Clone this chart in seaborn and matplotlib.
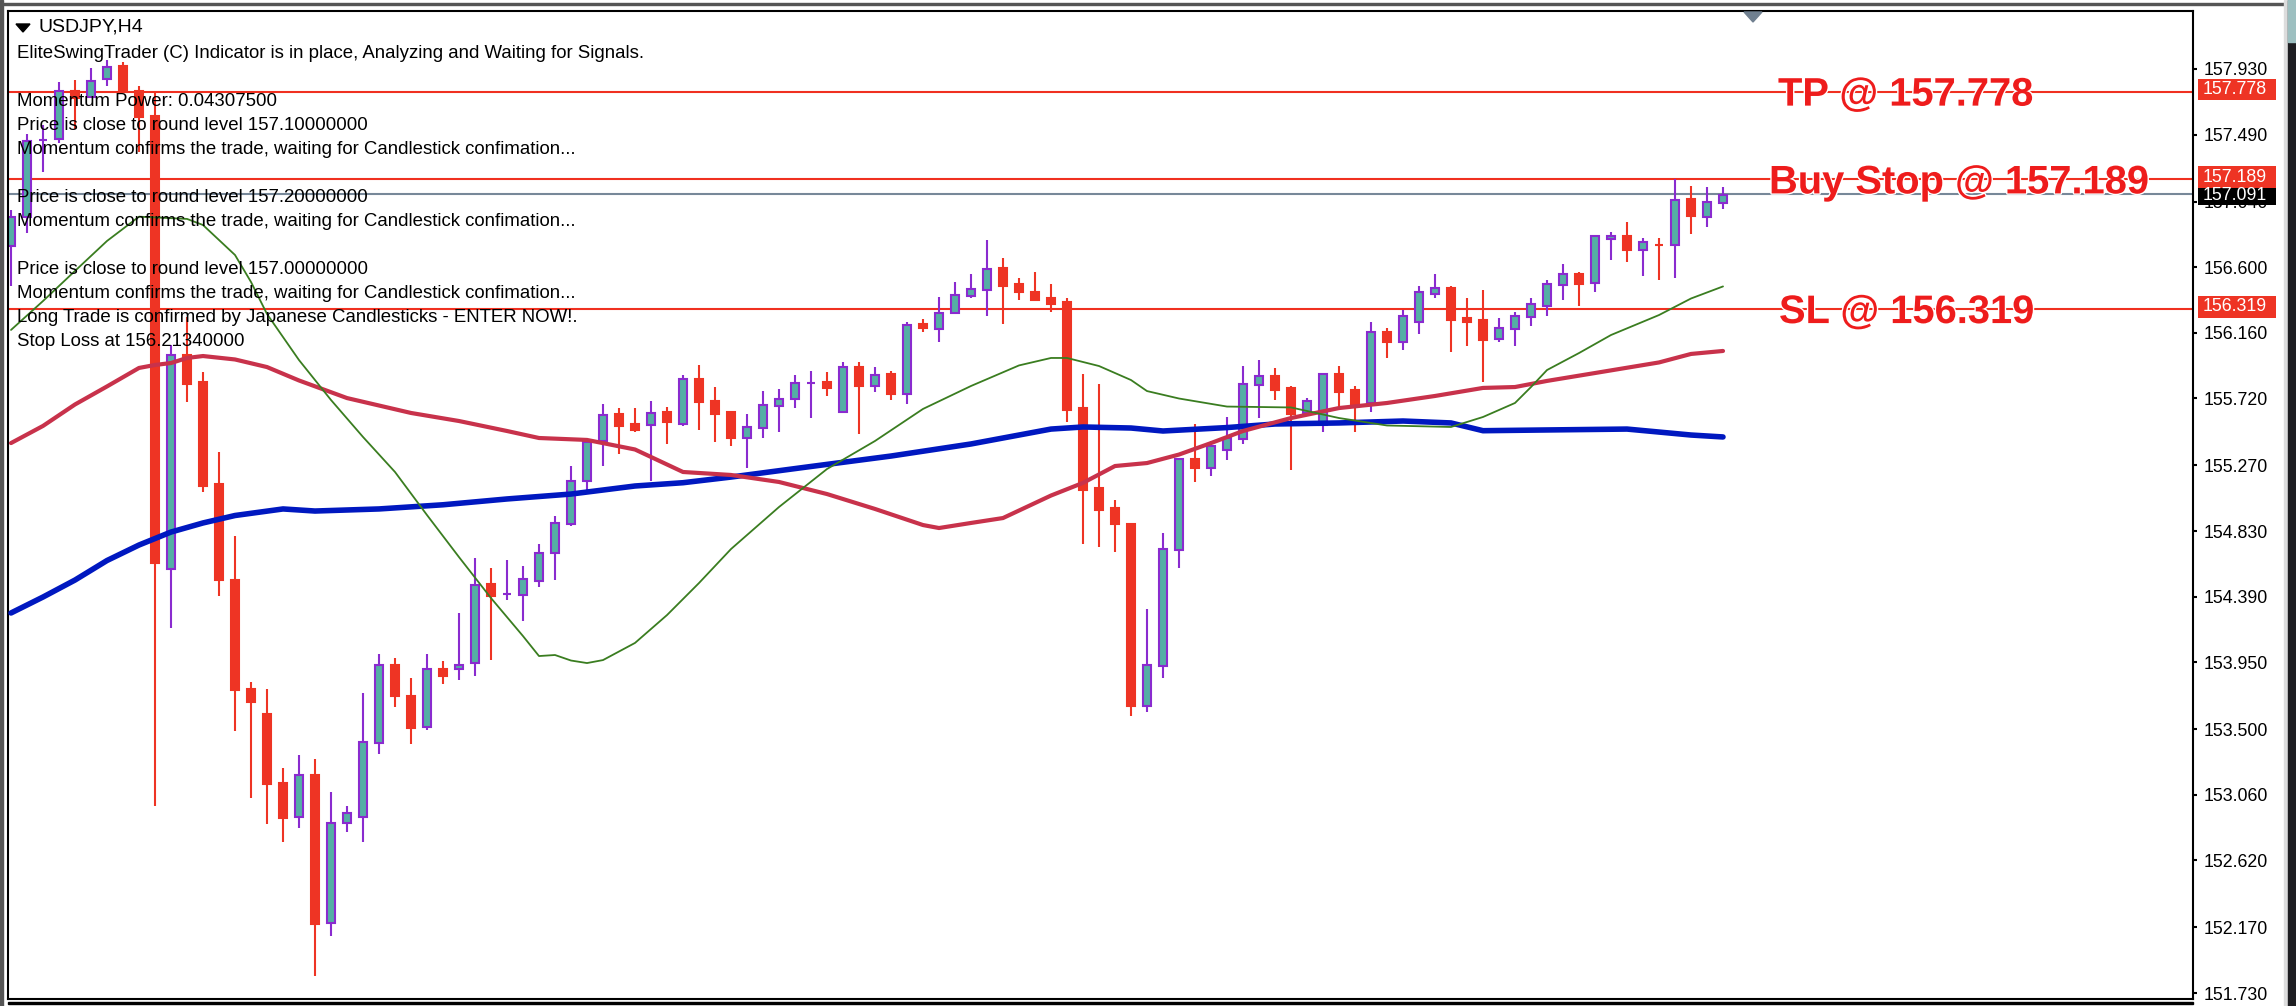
import numpy as np
import pandas as pd
import matplotlib
matplotlib.use('Agg')
import matplotlib.pyplot as plt
import matplotlib.patheffects as pe
from matplotlib.patches import Rectangle, Polygon
import seaborn as sns

# candles
open_prices = [156.742,156.937,157.454,157.460,157.782,157.742,157.863,157.950,157.782,157.615,
    154.575,156.011,155.830,155.145,154.501,153.773,153.602,153.142,152.908,153.196,
    152.200,152.871,152.908,153.408,153.934,153.723,153.512,153.907,153.901,153.944,
    154.474,154.405,154.401,154.495,154.680,154.878,155.167,155.431,155.615,155.548,
    155.538,155.626,155.549,155.853,155.704,155.626,155.457,155.524,155.672,155.714,
    155.823,155.827,155.630,155.933,155.806,155.883,155.751,156.219,156.185,156.290,
    156.410,156.449,156.595,156.487,156.434,156.393,156.367,155.653,155.119,154.982,
    154.874,153.656,153.925,154.705,155.316,155.255,155.375,155.445,155.810,155.870,
    155.790,155.622,155.541,155.883,155.776,155.689,156.165,156.100,156.234,156.422,
    156.461,156.259,156.246,156.118,156.185,156.266,156.342,156.481,156.554,156.494,
    156.787,156.809,156.717,156.752,156.749,157.058,156.937,157.031]
close_prices = [156.937,157.447,157.454,157.782,157.735,157.850,157.943,157.776,157.608,154.612,
    156.011,155.816,155.135,154.501,153.763,153.683,153.132,152.904,153.193,152.194,
    152.873,152.938,153.414,153.931,153.724,153.508,153.904,153.860,153.931,154.468,
    154.397,154.405,154.508,154.682,154.884,155.167,155.427,155.611,155.537,155.510,
    155.622,155.561,155.850,155.696,155.616,155.454,155.528,155.677,155.716,155.824,
    155.823,155.790,155.930,155.803,155.878,155.751,156.214,156.192,156.294,156.415,
    156.454,156.591,156.475,156.436,156.382,156.354,155.642,155.105,154.971,154.877,
    153.656,153.931,154.709,155.313,155.253,155.400,155.454,155.813,155.870,155.776,
    155.617,155.704,155.881,155.765,155.682,156.165,156.100,156.273,156.434,156.461,
    156.248,156.234,156.114,156.192,156.273,156.353,156.487,156.554,156.489,156.809,
    156.807,156.717,156.769,156.751,157.051,156.946,157.038,157.085]
high_prices = [156.984,157.494,157.554,157.843,157.856,157.937,157.990,157.977,157.816,157.776,
    156.078,156.266,155.897,155.360,154.796,153.817,153.773,153.240,153.330,153.303,
    153.079,152.982,153.746,154.005,153.975,153.844,154.005,153.961,154.282,154.649,
    154.579,154.635,154.595,154.740,154.928,155.263,155.447,155.679,155.652,155.652,
    155.704,155.665,155.880,155.947,155.799,155.637,155.612,155.771,155.785,155.880,
    155.906,155.894,155.961,155.961,155.933,155.906,156.232,156.255,156.403,156.501,
    156.554,156.783,156.662,156.528,156.568,156.487,156.393,155.883,155.816,155.038,
    154.874,154.307,154.818,155.313,155.545,155.436,155.598,155.937,155.977,155.924,
    155.803,155.722,155.881,155.937,155.803,156.232,156.192,156.313,156.474,156.554,
    156.474,156.393,156.447,156.259,156.299,156.393,156.514,156.622,156.568,156.809,
    156.836,156.903,156.796,156.796,157.195,157.145,157.140,157.140]
low_prices = [156.474,156.830,157.239,157.433,157.527,157.735,157.816,157.769,157.373,152.985,
    154.179,155.696,155.092,154.397,153.488,153.041,152.867,152.743,152.840,151.846,
    152.116,152.813,152.743,153.335,153.646,153.403,153.495,153.806,153.830,153.860,
    153.964,154.370,154.223,154.452,154.501,154.865,155.107,155.268,155.349,155.496,
    155.165,155.414,155.535,155.508,155.425,155.401,155.253,155.454,155.494,155.655,
    155.588,155.737,155.628,155.482,155.763,155.709,155.684,156.167,156.100,156.290,
    156.391,156.273,156.219,156.380,156.380,156.299,155.559,154.743,154.725,154.689,
    153.589,153.613,153.844,154.582,155.159,155.200,155.306,155.417,155.591,155.709,
    155.241,155.622,155.496,155.664,155.496,155.630,155.993,156.047,156.154,156.395,
    156.033,156.073,155.832,156.100,156.073,156.206,156.275,156.382,156.342,156.436,
    156.650,156.637,156.543,156.516,156.530,156.825,156.870,156.991]

# moving averages, read at the bars where they bend
blue_bars = [0,2,4,6,8,10,12,14,17,19,23,27,31,35,39,42,45,50,55,60,65,67,70,72,76,79,83,87,90,92,96,101,103,105,107]
blue_ma = [154.280,154.387,154.501,154.632,154.736,154.823,154.884,154.934,154.978,154.964,154.978,155.006,
    155.045,155.078,155.132,155.154,155.192,155.263,155.333,155.414,155.514,155.528,155.521,155.501,155.524,
    155.548,155.555,155.568,155.555,155.503,155.508,155.514,155.494,155.474,155.461]
red_bars = [0,2,4,6,8,9,10,11,12,14,16,18,21,23,25,28,31,33,36,39,42,45,48,51,54,57,58,60,62,65,67,69,71,73,75,77,80,83,86,89,92,94,96,99,103,105,107]
red_ma = [155.420,155.535,155.679,155.800,155.924,155.944,155.957,155.991,156.004,155.981,155.930,155.840,
    155.722,155.672,155.622,155.568,155.501,155.454,155.441,155.377,155.226,155.206,155.159,155.078,154.978,
    154.870,154.850,154.884,154.917,155.068,155.153,155.266,155.286,155.343,155.420,155.501,155.588,155.655,
    155.689,155.736,155.790,155.796,155.837,155.890,155.961,156.018,156.038]
green_bars = [0,2,4,6,8,11,12,14,15,16,18,20,22,24,26,28,30,32,33,34,35,36,37,39,41,43,45,48,51,54,57,60,63,65,66,68,70,71,73,76,80,83,86,90,92,94,95,96,98,100,103,105,107]
green_ma = [156.179,156.373,156.575,156.776,156.939,156.924,156.883,156.682,156.501,156.286,155.977,155.709,
    155.461,155.226,154.937,154.655,154.380,154.125,153.991,153.998,153.961,153.944,153.964,154.079,154.266,
    154.481,154.709,154.991,155.246,155.434,155.649,155.803,155.941,155.991,155.991,155.937,155.843,155.769,
    155.719,155.665,155.659,155.588,155.538,155.528,155.595,155.689,155.796,155.910,156.024,156.145,156.279,
    156.390,156.471]

tick_values = [157.930,157.490,157.040,156.600,156.160,155.720,155.270,154.830,154.390,153.950,153.500,153.060,152.620,152.170,151.730]
trade_levels = [157.778,157.189,156.319]
trade_names = ['TP','Buy Stop','SL']
trade_label_x = [1778,1769,1779]
current_price = 157.091

info_lines = [
    'EliteSwingTrader (C) Indicator is in place, Analyzing and Waiting for Signals.',
    'Momentum Power: 0.04307500',
    'Price is close to round level 157.10000000',
    'Momentum confirms the trade, waiting for Candlestick confimation...',
    'Price is close to round level 157.20000000',
    'Momentum confirms the trade, waiting for Candlestick confimation...',
    'Price is close to round level 157.00000000',
    'Momentum confirms the trade, waiting for Candlestick confimation...',
    'Long Trade is confirmed by Japanese Candlesticks - ENTER NOW!.',
    'Stop Loss at 156.21340000',
]
info_y = [53,101,125,149,197,222,269,293,317,342]

RED = '#EE3424'
TEAL = '#55AFA5'
PURPLE = '#8A2BCF'
W, H = 2296, 1006

candles = pd.DataFrame({'open': open_prices, 'high': high_prices, 'low': low_prices, 'close': close_prices})
candles['bar'] = candles.index
bull = candles[candles['close'] >= candles['open']]
bear = candles[candles['close'] < candles['open']]

sns.set_theme(style='white')
plt.rcParams['font.family'] = ['Liberation Sans', 'DejaVu Sans']

fig = plt.figure(figsize=(W / 100, H / 100), dpi=100)
ax = fig.add_axes([8 / W, (H - 999) / H, (2193 - 8) / W, (999 - 11) / H])
ax.set_xlim(-0.1875, 136.375)
ax.set_ylim(151.690, 158.319)

# level lines sit behind the candles
for level in trade_levels:
    ax.axhline(level, color='#F03020', lw=1.5, zorder=1)
ax.axhline(current_price, color='#778899', lw=1.5, zorder=1)

ax.vlines(bear['bar'], bear['low'], bear['high'], color=RED, lw=1.5, zorder=2)
ax.vlines(bull['bar'], bull['low'], bull['high'], color=PURPLE, lw=1.5, zorder=2)
ax.bar(bear['bar'], bear['open'] - bear['close'], bottom=bear['close'], width=0.5,
       color=RED, edgecolor=RED, lw=1.5, zorder=2.1)
ax.bar(bull['bar'], bull['close'] - bull['open'], bottom=bull['open'], width=0.5,
       color=TEAL, edgecolor=PURPLE, lw=1.5, zorder=2.1)

sns.lineplot(x=blue_bars, y=blue_ma, color='#0018C0', lw=4, ax=ax, zorder=3, estimator=None)
sns.lineplot(x=red_bars, y=red_ma, color='#C8324B', lw=3, ax=ax, zorder=3.1, estimator=None)
sns.lineplot(x=green_bars, y=green_ma, color='#3A7D20', lw=1.3, ax=ax, zorder=3.2, estimator=None)

ax.set_yticks(tick_values)
ax.set_yticklabels([f'{v:.3f}' for v in tick_values], fontsize=12.8, color='black')
ax.yaxis.tick_right()
ax.tick_params(axis='y', length=3, width=1.5, pad=5, color='black', right=True)
ax.set_xticks([])
for side in ax.spines:
    ax.spines[side].set_color('black')
    ax.spines[side].set_linewidth(1.5)

# price tags on the right, black one first because the red tag overlaps it
ybox = ax.get_yaxis_transform()
ax.add_patch(Rectangle((1.0023, current_price - 0.072), 0.0357, 0.146, transform=ybox,
                       color='black', lw=0, clip_on=False, zorder=5))
ax.text(1.0045, current_price - 0.013, f'{current_price:.3f}', transform=ybox, color='white',
        fontsize=12.8, va='center', clip_on=False, zorder=6)
for level in trade_levels:
    ax.add_patch(Rectangle((1.0023, level - 0.058), 0.0357, 0.146, transform=ybox,
                           color=RED, lw=0, clip_on=False, zorder=5.5))
    ax.text(1.0045, level + 0.015, f'{level:.3f}', transform=ybox, color='white',
            fontsize=12.8, va='center', clip_on=False, zorder=6)

# big trade labels with a white halo so the line breaks around the letters
for level, name, lx in zip(trade_levels, trade_names, trade_label_x):
    ax.annotate(f'{name} @ {level:.3f}', xy=(lx, level), xycoords=('figure pixels', 'data'),
                xytext=(0, -14), textcoords='offset pixels', va='baseline', ha='left',
                fontsize=28.7, fontweight='bold', color='#EE1C1C', zorder=7, annotation_clip=False,
                path_effects=[pe.withStroke(linewidth=2, foreground='white')])

# indicator text and title
for txt, ty in zip(info_lines, info_y):
    fig.text(17 / W, 1 - ty / H, txt, fontsize=13.4, color='black', va='center', zorder=8)
fig.text(39 / W, 1 - 27 / H, 'USDJPY,H4', fontsize=14, color='black', va='center', zorder=8)

# small markers and the window chrome around the chart
fig.add_artist(Polygon([(16 / W, 1 - 24 / H), (30 / W, 1 - 24 / H), (23 / W, 1 - 32 / H)],
                       transform=fig.transFigure, color='black'))
fig.add_artist(Polygon([(1744 / W, 1 - 12 / H), (1762 / W, 1 - 12 / H), (1753 / W, 1 - 22 / H)],
                       transform=fig.transFigure, color='#708090'))
fig.add_artist(Rectangle((0, 1 - 5 / H), 2285 / W, 2 / H, transform=fig.transFigure, color='#555555'))
fig.add_artist(Rectangle((0, 0), 3 / W, 1, transform=fig.transFigure, color='#555555'))
fig.add_artist(Rectangle((8 / W, 1 - 1004 / H), 2185 / W, 2 / H, transform=fig.transFigure, color='black'))
fig.add_artist(Rectangle((2284 / W, 0), 4 / W, 1, transform=fig.transFigure, color='#DDDDDD'))
fig.add_artist(Rectangle((2288 / W, 0), 8 / W, 1, transform=fig.transFigure, color='#1E1E22'))
fig.add_artist(Rectangle((2288 / W, 1 - 42 / H), 8 / W, 42 / H, transform=fig.transFigure, color='#9DBFC0'))

fig.savefig('out.png', dpi=100)
